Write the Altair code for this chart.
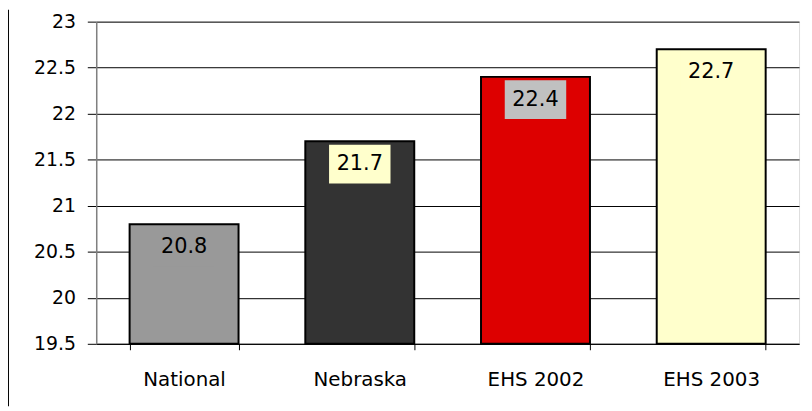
import altair as alt
import pandas as pd

categories = ["National", "Nebraska", "EHS 2002", "EHS 2003"]
values = [20.8, 21.7, 22.4, 22.7]
bar_colors = ["#999999", "#333333", "#DD0000", "#FFFFCC"]
box_colors = ["#999999", "#FFFFCC", "#C0C0C0", "#FFFFCC"]
y_ticks = [19.5, 20, 20.5, 21, 21.5, 22, 22.5, 23]

df = pd.DataFrame({
    "cat": categories,
    "value": values,
    "bar": bar_colors,
    "box": box_colors,
})

FONT = "DejaVu Sans"

x_enc = alt.X(
    "cat:N",
    sort=categories,
    title=None,
    scale=alt.Scale(paddingInner=0.38, paddingOuter=0.19),
    axis=alt.Axis(
        labelAngle=0,
        labelFont=FONT,
        labelFontSize=20,
        labelColor="#000000",
        labelPadding=20,
        tickBand="extent",
        tickSize=6,
        tickColor="#000000",
        domainColor="#000000",
        grid=False,
    ),
)
y_scale = alt.Scale(domain=[19.5, 23], nice=False, zero=False)
y_enc = alt.Y(
    "value:Q",
    title=None,
    scale=y_scale,
    axis=alt.Axis(
        values=y_ticks,
        format="~g",
        labelFont=FONT,
        labelFontSize=19,
        labelColor="#000000",
        labelPadding=12,
        tickSize=9,
        tickColor="#000000",
        domainColor="#808080",
        domainWidth=1.5,
        grid=True,
        gridColor="#000000",
        gridWidth=1,
    ),
)

base = alt.Chart(df)

bars = base.mark_bar(stroke="#000000", strokeWidth=2).encode(
    x=x_enc,
    y=y_enc,
    y2=alt.datum(19.5),
    color=alt.Color("bar:N", scale=None),
)

boxes = base.mark_point(
    shape="M-1,-0.629L1,-0.629L1,0.629L-1,0.629Z",
    size=3844,
    filled=True,
    opacity=1,
    strokeWidth=0,
    yOffset=23,
).encode(
    x=alt.X("cat:N", sort=categories),
    y=alt.Y("value:Q", scale=y_scale),
    color=alt.Color("box:N", scale=None),
)

labels = base.mark_text(
    font=FONT,
    fontSize=21,
    color="#000000",
    baseline="middle",
    align="center",
    dy=23,
).encode(
    x=alt.X("cat:N", sort=categories),
    y=alt.Y("value:Q", scale=y_scale),
    text=alt.Text("value:Q", format=".1f"),
)

border = alt.Chart(pd.DataFrame({"a": [0]})).mark_rule(
    color="#000000", strokeWidth=1
).encode(
    x=alt.value(-88.5),
    y=alt.value(-12),
    y2=alt.value(388),
)

chart = (
    alt.layer(bars, boxes, labels, border)
    .properties(
        width=709,
        height=325,
        autosize=alt.AutoSizeParams(type="none"),
        padding={"left": 89, "top": 12, "right": 5, "bottom": 63},
    )
    .configure_view(stroke="#808080", strokeWidth=1)
    .configure(background="#FFFFFF")
)

chart.save("out.html", embed_options={"renderer": "svg", "actions": False})
